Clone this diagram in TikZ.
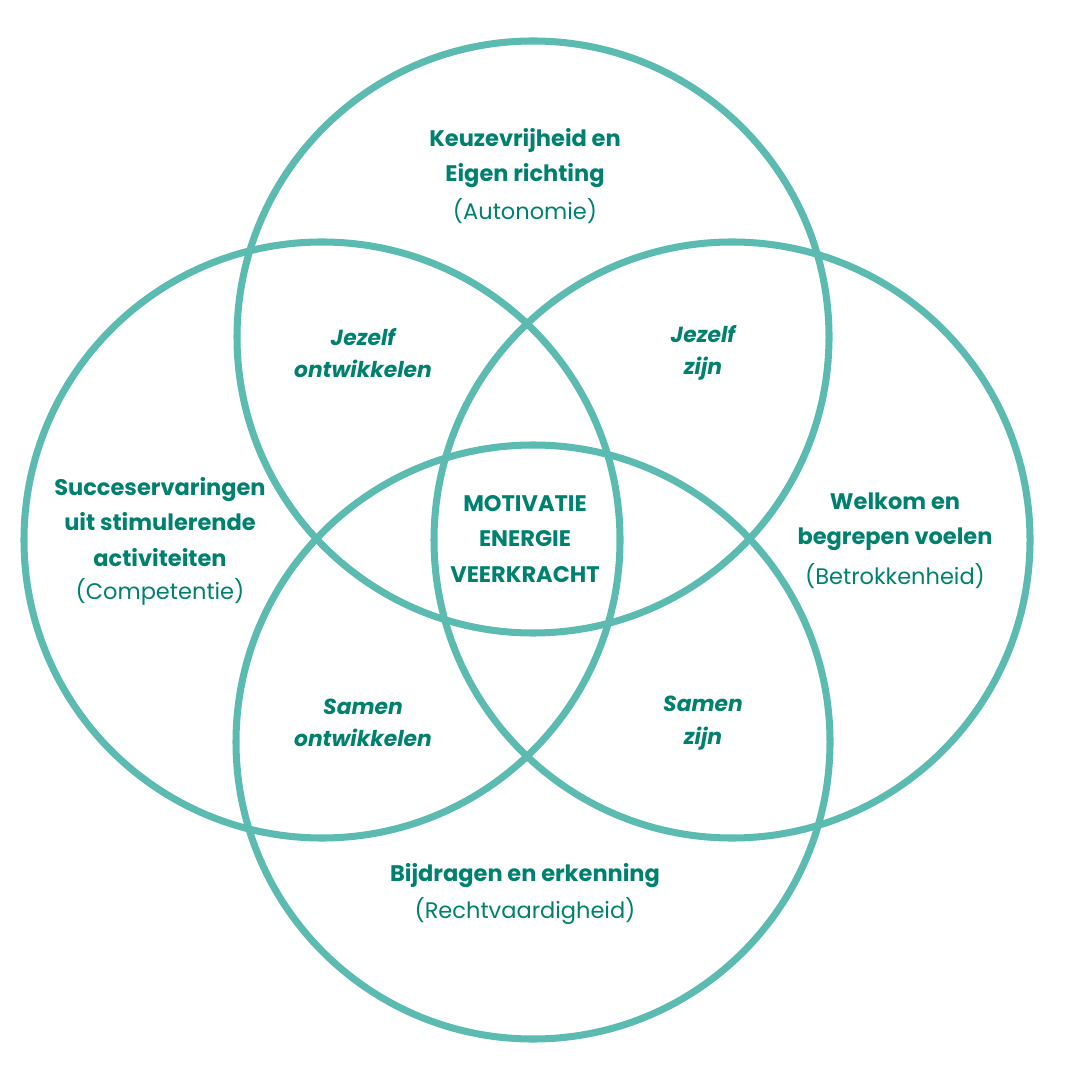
\documentclass[tikz,border=0pt]{standalone}
\usepackage{fontspec}
\setmainfont{Poppins}
\definecolor{ring}{HTML}{5BBBB0}
\definecolor{tekst}{HTML}{00806E}
\tikzset{
  ring/.style={draw=ring, line width=2pt},
  kop/.style={align=center, text=tekst, font=\fontsize{6.4}{10}\selectfont\bfseries},
  sub/.style={align=center, text=tekst, font=\fontsize{6.4}{10}\selectfont},
  mid/.style={align=center, text=tekst, font=\fontsize{6.2}{9.2}\selectfont\bfseries\itshape}
}
\begin{document}
\begin{tikzpicture}[x=0.01cm,y=-0.01cm]
  \useasboundingbox (0,0) rectangle (1080,1080);
  % vier cirkels
  \draw[ring] (533,337) circle (296);
  \draw[ring] (322,540) circle (298);
  \draw[ring] (732,540) circle (298);
  \draw[ring] (533,742) circle (297);
  % teksten
  \node[kop] (auto) at (525,158) {Keuzevrijheid en\\Eigen richting};
  \node[sub] (autos) at (525,211) {(Autonomie)};
  \node[kop] (comp) at (160,522) {Succeservaringen\\uit stimulerende\\activiteiten};
  \node[sub] (comps) at (160,592) {(Competentie)};
  \node[kop] (betr) at (895,522) {Welkom en\\begrepen voelen};
  \node[sub] (betrs) at (895,576) {(Betrokkenheid)};
  \node[kop] (recht) at (525,876) {Bijdragen en erkenning};
  \node[sub] (rechts) at (525,911) {(Rechtvaardigheid)};
  \node[kop] (kern) at (525,539) {MOTIVATIE\\ENERGIE\\VEERKRACHT};
  \node[mid] (jo) at (363,353) {Jezelf\\ontwikkelen};
  \node[mid] (jz) at (703,353) {Jezelf\\zijn};
  \node[mid] (so) at (363,723) {Samen\\ontwikkelen};
  \node[mid] (sz) at (703,723) {Samen\\zijn};
\end{tikzpicture}
\end{document}
